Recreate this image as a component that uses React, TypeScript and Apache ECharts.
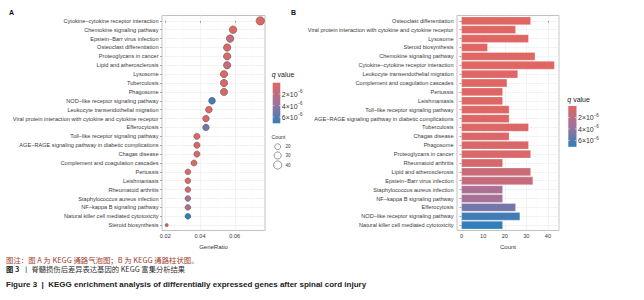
import React, { useEffect, useRef } from 'react';
import * as echarts from 'echarts';

// ---------- Panel A (bubble chart) ----------
const pathwaysA = [
  'Cytokine−cytokine receptor interaction',
  'Chemokine signaling pathway',
  'Epstein−Barr virus infection',
  'Osteoclast differentiation',
  'Proteoglycans in cancer',
  'Lipid and atherosclerosis',
  'Lysosome',
  'Tuberculosis',
  'Phagosome',
  'NOD−like receptor signaling pathway',
  'Leukocyte transendothelial migration',
  'Viral protein interaction with cytokine and cytokine receptor',
  'Efferocytosis',
  'Toll−like receptor signaling pathway',
  'AGE−RAGE signaling pathway in diabetic complications',
  'Chagas disease',
  'Complement and coagulation cascades',
  'Pertussis',
  'Leishmaniasis',
  'Rheumatoid arthritis',
  'Staphylococcus aureus infection',
  'NF−kappa B signaling pathway',
  'Natural killer cell mediated cytotoxicity',
  'Steroid biosynthesis',
];
const geneRatioA = [0.0747, 0.059, 0.0573, 0.0556, 0.0556, 0.0556, 0.0538, 0.0538, 0.0538, 0.0469, 0.0451, 0.0434, 0.0434, 0.0382, 0.0382, 0.0382, 0.0365, 0.033, 0.033, 0.033, 0.033, 0.033, 0.033, 0.0208];
const countA = [43, 34, 33, 32, 32, 32, 31, 31, 31, 27, 26, 25, 25, 22, 22, 22, 21, 19, 19, 19, 19, 19, 19, 12];
const qA = [0.03e-6, 0.02e-6, 1.5e-6, 0.002e-6, 0.45e-6, 1.3e-6, 0.006e-6, 0.25e-6, 0.35e-6, 6.6e-6, 0.05e-6, 0.004e-6, 5.0e-6, 0.15e-6, 0.2e-6, 0.3e-6, 0.08e-6, 0.1e-6, 0.12e-6, 0.6e-6, 3.0e-6, 3.2e-6, 7.1e-6, 0.01e-6];

// ---------- Panel B (bar chart) ----------
const pathwaysB = [
  'Osteoclast differentiation',
  'Viral protein interaction with cytokine and cytokine receptor',
  'Lysosome',
  'Steroid biosynthesis',
  'Chemokine signaling pathway',
  'Cytokine−cytokine receptor interaction',
  'Leukocyte transendothelial migration',
  'Complement and coagulation cascades',
  'Pertussis',
  'Leishmaniasis',
  'Toll−like receptor signaling pathway',
  'AGE−RAGE signaling pathway in diabetic complications',
  'Tuberculosis',
  'Chagas disease',
  'Phagosome',
  'Proteoglycans in cancer',
  'Rheumatoid arthritis',
  'Lipid and atherosclerosis',
  'Epstein−Barr virus infection',
  'Staphylococcus aureus infection',
  'NF−kappa B signaling pathway',
  'Efferocytosis',
  'NOD−like receptor signaling pathway',
  'Natural killer cell mediated cytotoxicity',
];
const countB = [32, 25, 31, 12, 34, 43, 26, 21, 19, 19, 22, 22, 31, 22, 31, 32, 19, 32, 33, 19, 19, 25, 27, 19];
const qB = [0.002e-6, 0.004e-6, 0.006e-6, 0.01e-6, 0.02e-6, 0.03e-6, 0.05e-6, 0.08e-6, 0.1e-6, 0.12e-6, 0.15e-6, 0.2e-6, 0.25e-6, 0.3e-6, 0.35e-6, 0.45e-6, 0.6e-6, 1.3e-6, 1.5e-6, 3.0e-6, 3.2e-6, 5.0e-6, 6.6e-6, 7.1e-6];

// ---------- ticks / legends ----------
const xTicksA = [0.02, 0.04, 0.06];
const xMinorA = [0.03, 0.05, 0.07];
const xTicksB = [0, 10, 20, 30, 40];
const xMinorB = [5, 15, 25, 35, 45];
const qTicks = [2e-6, 4e-6, 6e-6];
const qTickMant = ['2×10', '4×10', '6×10'];
const qTickExp = '−6';
const countTicks = [20, 30, 40];

const FONT = '"Liberation Sans", Arial, sans-serif';
const CJK = '"Noto Sans CJK SC", "Liberation Sans", sans-serif';
const LOW = '#e06663';
const MID = '#a1729b';
const HIGH = '#327eba';
const LABEL_FS = 5.6;

const cMin = Math.min(...countA);
const cMax = Math.max(...countA);
const sizeOf = (c: number) => 3.2 + 5.2 * Math.sqrt(Math.max(0, (c - cMin) / (cMax - cMin)));
const qMin = Math.min(...qA);
const qMax = Math.max(...qA);

const idxA = pathwaysA.map((_, i) => i);
const idxB = pathwaysB.map((_, i) => i);

const GRID_TOP = 15.5;
const GRID_H = 215;

function colorbar(x: number, y: number, w: number, h: number, titleY: number) {
  const els: any[] = [];
  els.push({
    type: 'text', left: x - 1, top: titleY - 4.5,
    style: {
      text: '{i|q} value',
      rich: { i: { fontStyle: 'italic', fontFamily: FONT, fontSize: 7, fill: '#222' } },
      fontFamily: FONT, fontSize: 7, fill: '#222',
    },
  });
  els.push({
    type: 'rect', shape: { x, y, width: w, height: h },
    style: {
      fill: new echarts.graphic.LinearGradient(0, 0, 0, 1, [
        { offset: 0, color: LOW },
        { offset: 0.5, color: MID },
        { offset: 1, color: HIGH },
      ]),
    },
  });
  qTicks.forEach((v, k) => {
    const ty = y + ((v - qMin) / (qMax - qMin)) * h;
    els.push({ type: 'line', shape: { x1: x, y1: ty, x2: x + w * 0.2, y2: ty }, style: { stroke: '#fff', lineWidth: 0.5 } });
    els.push({ type: 'line', shape: { x1: x + w * 0.8, y1: ty, x2: x + w, y2: ty }, style: { stroke: '#fff', lineWidth: 0.5 } });
    els.push({
      type: 'text', x: x + w + 1.5, y: ty + 0.5,
      style: { text: qTickMant[k], fontFamily: FONT, fontSize: 7, fill: '#333', verticalAlign: 'middle' },
    });
    els.push({
      type: 'text', x: x + w + 1.5 + 15.6, y: ty - 2.4,
      style: { text: qTickExp, fontFamily: FONT, fontSize: 4.5, fill: '#333', verticalAlign: 'middle' },
    });
  });
  return els;
}

export default function App() {
  const ref = useRef<HTMLDivElement>(null);
  useEffect(() => {
    if (!ref.current) return;
    const chart = echarts.init(ref.current, undefined, { renderer: 'svg' });

    const yAxisCommon = (names: string[], idx: number[], gridIndex: number) => ({
      type: 'value', gridIndex, min: -0.6, max: 23.6, inverse: true,
      axisLine: { show: false },
      axisTick: { show: true, length: 2, lineStyle: { color: '#555', width: 0.5 }, customValues: idx },
      axisLabel: {
        customValues: idx, fontSize: LABEL_FS, fontFamily: FONT, color: '#3a3a3a', margin: 3.5,
        formatter: (v: number) => names[Math.round(v)] ?? '',
      },
      splitLine: { show: true, lineStyle: { color: '#ebebeb', width: 0.6 } },
    });

    const xMajor = (gridIndex: number, min: number, max: number, ticks: number[], name: string) => ({
      type: 'value', gridIndex, min, max, name,
      nameLocation: 'middle', nameGap: 8.5,
      nameTextStyle: { fontSize: 6, fontFamily: FONT, color: '#333' },
      axisLine: { show: false },
      axisTick: { show: true, length: 2, lineStyle: { color: '#555', width: 0.5 }, customValues: ticks },
      axisLabel: { customValues: ticks, fontSize: LABEL_FS, fontFamily: FONT, color: '#3a3a3a', margin: 2.5 },
      splitLine: { show: true, lineStyle: { color: '#ebebeb', width: 0.6 } },
    });
    const xMinor = (gridIndex: number, min: number, max: number, ticks: number[]) => ({
      type: 'value', gridIndex, min, max,
      axisLine: { show: false },
      axisTick: { show: false, customValues: ticks },
      axisLabel: { show: false, customValues: ticks },
      splitLine: { show: true, lineStyle: { color: '#f3f3f3', width: 0.4 } },
    });

    const option: any = {
      animation: false,
      backgroundColor: '#fff',
      grid: [
        { left: 162, top: GRID_TOP, width: 103, height: GRID_H, show: true, borderColor: '#b0b0b0', borderWidth: 0.8, backgroundColor: 'transparent' },
        { left: 457, top: GRID_TOP, width: 102, height: GRID_H, show: true, borderColor: '#b0b0b0', borderWidth: 0.8, backgroundColor: 'transparent' },
      ],
      xAxis: [
        xMajor(0, 0.0181, 0.0774, xTicksA, 'GeneRatio'),
        xMajor(1, -2.15, 45.15, xTicksB, 'Count'),
        xMinor(0, 0.0181, 0.0774, xMinorA),
        xMinor(1, -2.15, 45.15, xMinorB),
      ],
      yAxis: [yAxisCommon(pathwaysA, idxA, 0), yAxisCommon(pathwaysB, idxB, 1)],
      visualMap: [
        { type: 'continuous', show: false, seriesIndex: 0, dimension: 3, min: qMin, max: qMax, inRange: { color: [LOW, MID, HIGH] } },
        { type: 'continuous', show: false, seriesIndex: 1, dimension: 2, min: qMin, max: qMax, inRange: { color: [LOW, MID, HIGH] } },
      ],
      series: [
        {
          type: 'scatter', xAxisIndex: 0, yAxisIndex: 0,
          data: pathwaysA.map((_, i) => [geneRatioA[i], i, countA[i], qA[i]]),
          symbolSize: (v: number[]) => sizeOf(v[2]),
          itemStyle: { borderColor: '#4a4a4a', borderWidth: 0.5, opacity: 1 },
          z: 5,
        },
        {
          type: 'custom', xAxisIndex: 1, yAxisIndex: 1,
          encode: { x: 0, y: 1 },
          data: pathwaysB.map((_, i) => [countB[i], i, qB[i]]),
          renderItem: (params: any, api: any) => {
            const y = api.value(1);
            const s = api.coord([0, y]);
            const e = api.coord([api.value(0), y]);
            const h = api.size([0, 1])[1] * 0.88;
            return {
              type: 'rect',
              shape: { x: s[0], y: s[1] - h / 2, width: e[0] - s[0], height: h },
              style: { fill: api.visual('color'), stroke: 'rgba(255,255,255,0.45)', lineWidth: 0.6 },
            };
          },
          z: 5,
        },
      ],
      graphic: [
        { type: 'text', left: 9, top: 9, style: { text: 'A', fontFamily: FONT, fontSize: 7, fontWeight: 'bold', fill: '#111' } },
        { type: 'text', left: 291, top: 9, style: { text: 'B', fontFamily: FONT, fontSize: 7, fontWeight: 'bold', fill: '#111' } },
        ...colorbar(272.7, 82.7, 7.6, 40.6, 75),
        ...colorbar(568.3, 106, 8.2, 40.8, 100),
        { type: 'text', left: 271.5, top: 134, style: { text: 'Count', fontFamily: FONT, fontSize: 5.2, fill: '#333' } },
        ...countTicks.flatMap((c, k) => {
          const cy = [146.7, 155.5, 165][k];
          return [
            { type: 'circle', shape: { cx: 277.7, cy, r: sizeOf(c) / 2 }, style: { fill: '#fff', stroke: '#333', lineWidth: 0.5 } },
            { type: 'text', x: 285.5, y: cy, style: { text: String(c), fontFamily: FONT, fontSize: 4.5, fill: '#333', verticalAlign: 'middle' } },
          ];
        }),
        {
          type: 'text', left: 6, top: 255.5,
          style: { text: '图注：图 A 为 KEGG 通路气泡图；B 为 KEGG 通路柱状图。', fontFamily: CJK, fontSize: 7.4, fill: '#a23d2e' },
        },
        {
          type: 'text', left: 6, top: 265.5,
          style: {
            text: '{b|图 3}  丨 脊髓损伤后差异表达基因的 KEGG 富集分析结果',
            fontFamily: CJK, fontSize: 7.3, fill: '#333',
            rich: { b: { fontFamily: CJK, fontSize: 7.3, fontWeight: 'bold', fill: '#222' } },
          },
        },
        {
          type: 'text', left: 6, top: 280.5,
          style: { text: 'Figure 3  |  KEGG enrichment analysis of differentially expressed genes after spinal cord injury', fontFamily: FONT, fontSize: 8, fontWeight: 'bold', fill: '#222' },
        },
      ],
    };
    chart.setOption(option);
    return () => chart.dispose();
  }, []);
  return <div ref={ref} style={{ position: 'fixed', left: 0, top: 0, width: 644, height: 300, background: '#fff' }} />;
}
